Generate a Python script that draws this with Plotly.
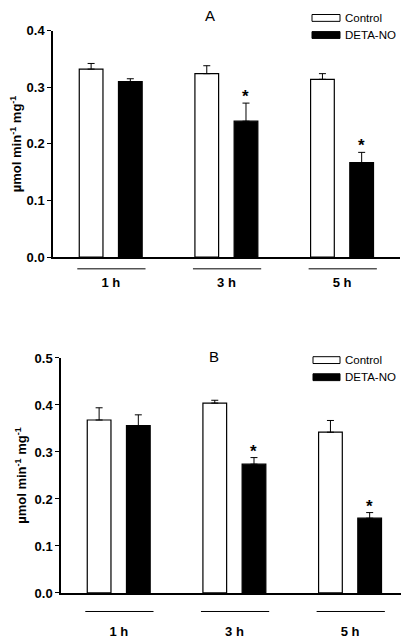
import plotly.graph_objects as go

groups = ["1 h", "3 h", "5 h"]
series = ["Control", "DETA-NO"]

# Panel A
a_control = [0.332, 0.324, 0.314]
a_control_err = [0.010, 0.014, 0.010]
a_deta = [0.310, 0.240, 0.167]
a_deta_err = [0.005, 0.032, 0.018]
a_sig = [False, True, True]

# Panel B
b_control = [0.368, 0.404, 0.342]
b_control_err = [0.026, 0.006, 0.025]
b_deta = [0.356, 0.274, 0.159]
b_deta_err = [0.023, 0.014, 0.012]
b_sig = [False, True, True]

FONT = "Liberation Sans, Arial, sans-serif"
# page body has an 8px margin; figure occupies screen x 8..409, y 8..640
OX, OY = 8, 8
W, H = 409 - OX, 640 - OY


def px(X):
    return (X - OX) / W


def py(Y):
    return (640 - Y) / H


xs = [0, 1, 2]
BW = 0.205
OFF_C = -0.273
OFF_D = 0.066

fig = go.Figure()


def add_panel(ctrl, ctrl_err, deta, deta_err, xa, ya):
    fig.add_trace(go.Bar(
        x=xs, y=ctrl, width=BW, offset=OFF_C, xaxis=xa, yaxis=ya,
        marker=dict(color="white", line=dict(color="black", width=1.2)),
        error_y=dict(type="data", array=ctrl_err, arrayminus=[0] * 3, symmetric=False,
                     color="black", thickness=1, width=3.5),
        showlegend=False, name=series[0]))
    fig.add_trace(go.Bar(
        x=xs, y=deta, width=BW, offset=OFF_D, xaxis=xa, yaxis=ya,
        marker=dict(color="black", line=dict(color="black", width=1.2)),
        error_y=dict(type="data", array=deta_err, arrayminus=[0] * 3, symmetric=False,
                     color="black", thickness=1, width=3.5),
        showlegend=False, name=series[1]))


add_panel(a_control, a_control_err, a_deta, a_deta_err, "x", "y")
add_panel(b_control, b_control_err, b_deta, b_deta_err, "x2", "y2")

axis_common = dict(showline=True, linecolor="black", linewidth=1.5, showgrid=False,
                   zeroline=False,
                   tickfont=dict(family=FONT, size=13, color="black", weight="bold"))

ytitle = dict(text="µmol min<sup>-1</sup> mg<sup>-1</sup>",
              font=dict(family=FONT, size=13, color="black", weight="bold"), standoff=5)

fig.update_layout(
    width=W, height=H, margin=dict(l=0, r=0, t=0, b=0),
    paper_bgcolor="white", plot_bgcolor="white", barmode="overlay",
    xaxis=dict(domain=[px(53), px(400)], range=[-0.5, 2.5], anchor="y",
               tickvals=xs, ticktext=groups, ticks="", ticklabelstandoff=13, **axis_common),
    yaxis=dict(domain=[py(256), py(24)], range=[0, 0.4], anchor="x",
               tickvals=[0, 0.1, 0.2, 0.3, 0.4], ticktext=["0.0", "0.1", "0.2", "0.3", "0.4"],
               ticks="outside", ticklen=4, tickwidth=1, tickcolor="black",
               title=ytitle, **axis_common),
    xaxis2=dict(domain=[px(61), px(408)], range=[-0.5, 2.5], anchor="y2",
                tickvals=xs, ticktext=groups, ticks="", ticklabelstandoff=26, **axis_common),
    yaxis2=dict(domain=[py(600), py(359.3)], range=[0, 0.5], anchor="x2",
                tickvals=[0, 0.1, 0.2, 0.3, 0.4, 0.5],
                ticktext=["0.0", "0.1", "0.2", "0.3", "0.4", "0.5"],
                ticks="outside", ticklen=4, tickwidth=1, tickcolor="black",
                title=ytitle, **axis_common),
)

shapes = []
annotations = []


def decorate(xref, yref, line_y_px, deta, deta_err, sig, title, title_y_px, title_x_px,
             leg_c_y, leg_d_y, leg_x0, leg_x1):
    for i in xs:
        shapes.append(dict(type="line", xref=xref, yref="paper",
                           x0=i - 0.29, x1=i + 0.30, y0=py(line_y_px), y1=py(line_y_px),
                           line=dict(color="black", width=1)))
        if sig[i]:
            annotations.append(dict(xref=xref, yref=yref, x=i + OFF_D + BW / 2,
                                    y=deta[i] + deta_err[i], text="*", showarrow=False,
                                    yanchor="bottom", yshift=-5,
                                    font=dict(family=FONT, size=17, color="black", weight="bold")))
    annotations.append(dict(xref="paper", yref="paper", x=px(title_x_px), y=py(title_y_px),
                            text=title, showarrow=False, xanchor="center", yanchor="middle",
                            font=dict(family=FONT, size=15, color="black")))
    for (yc, fill, txt) in [(leg_c_y, "white", series[0]), (leg_d_y, "black", series[1])]:
        shapes.append(dict(type="rect", xref="paper", yref="paper",
                           x0=px(leg_x0), x1=px(leg_x1), y0=py(yc + 3.5), y1=py(yc - 3.5),
                           fillcolor=fill, line=dict(color="black", width=1)))
        annotations.append(dict(xref="paper", yref="paper", x=px(leg_x1 + 3), y=py(yc),
                                text=txt, showarrow=False, xanchor="left", yanchor="middle",
                                font=dict(family=FONT, size=11.5, color="black")))


decorate("x", "y", 268, a_deta, a_deta_err, a_sig, "A", 8, 210, 11, 28.5, 312, 340)
decorate("x2", "y2", 619, b_deta, b_deta_err, b_sig, "B", 358, 214, 361.5, 379, 313, 340)

fig.update_layout(shapes=shapes, annotations=annotations)
fig.write_html("out.html")
